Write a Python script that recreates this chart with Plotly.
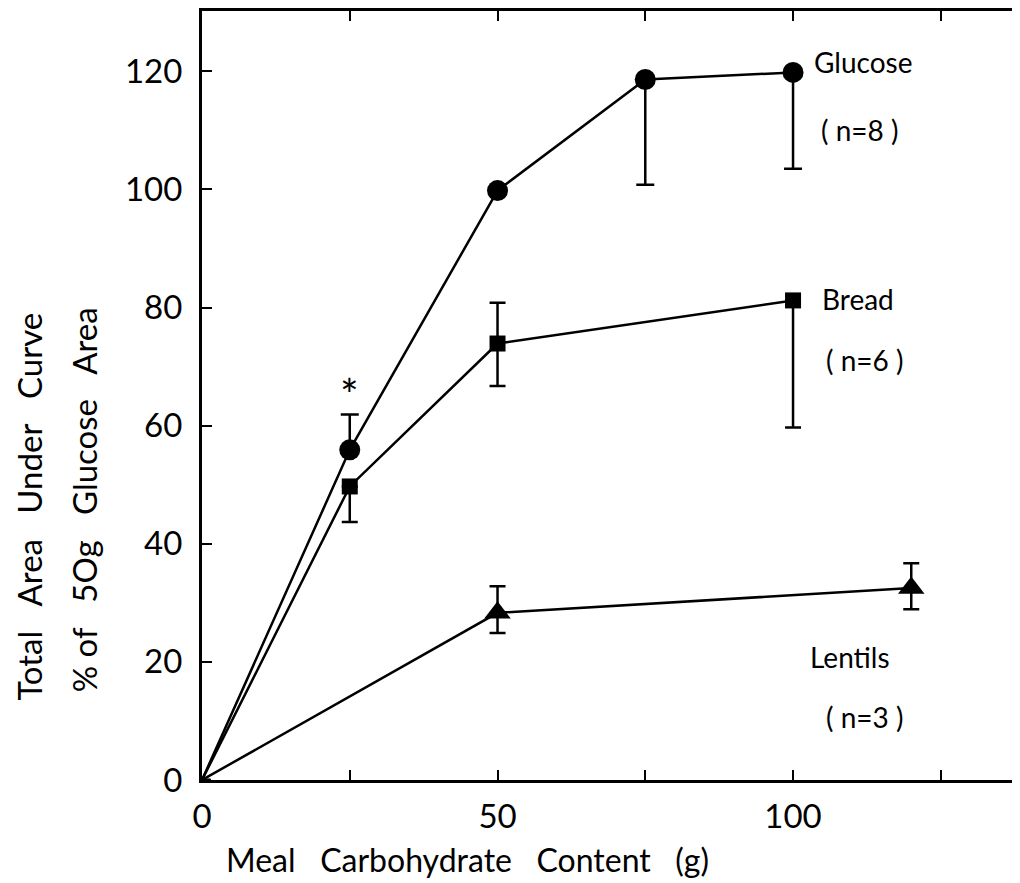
import plotly.graph_objects as go

# ---- data ----
glucose_x = [0, 25, 50, 75, 100]
glucose_y = [0, 55.9, 99.8, 118.6, 119.8]
glucose_err_plus = [None, 6.0, 0, 0, 0]
glucose_err_minus = [None, 0, 0, 17.8, 16.3]

bread_x = [0, 25, 50, 100]
bread_y = [0, 49.7, 73.9, 81.2]
bread_err_plus = [None, 0, 6.9, 0]
bread_err_minus = [None, 6.0, 7.2, 21.5]

lentils_x = [0, 50, 120]
lentils_y = [0, 28.3, 32.5]
lentils_err_plus = [None, 4.5, 4.2]
lentils_err_minus = [None, 3.4, 3.6]

x_tickvals = [0, 25, 50, 75, 100, 125]
x_ticktext = ["0", "", "50", "", "100", ""]
y_tickvals = [0, 20, 40, 60, 80, 100, 120]
y_ticktext = ["0", "20", "40", "60", "80", "100", "120"]

FONT = "Lato"
BLACK = "#000000"
NB = "\u00a0"


def sizes(xs, s):
    return [0 if x == 0 else s for x in xs]


fig = go.Figure()

fig.add_trace(go.Scatter(
    x=glucose_x, y=glucose_y, mode="lines+markers",
    line=dict(color=BLACK, width=2.5),
    marker=dict(symbol="circle", size=sizes(glucose_x, 21), color=BLACK,
                opacity=1, line=dict(width=0)),
    error_y=dict(type="data", symmetric=False, array=glucose_err_plus,
                 arrayminus=glucose_err_minus, color=BLACK, thickness=2.5, width=9),
    showlegend=False,
))
fig.add_trace(go.Scatter(
    x=bread_x, y=bread_y, mode="lines+markers",
    line=dict(color=BLACK, width=2.5),
    marker=dict(symbol="square", size=sizes(bread_x, 16), color=BLACK,
                opacity=1, line=dict(width=0)),
    error_y=dict(type="data", symmetric=False, array=bread_err_plus,
                 arrayminus=bread_err_minus, color=BLACK, thickness=2.5, width=8),
    showlegend=False,
))
fig.add_trace(go.Scatter(
    x=lentils_x, y=lentils_y, mode="lines+markers",
    line=dict(color=BLACK, width=2.5),
    marker=dict(symbol="triangle-up", size=sizes(lentils_x, 23), color=BLACK,
                opacity=1, line=dict(width=0)),
    error_y=dict(type="data", symmetric=False, array=lentils_err_plus,
                 arrayminus=lentils_err_minus, color=BLACK, thickness=2.5, width=8),
    showlegend=False,
))

# dummy trace for right-hand ticks
fig.add_trace(go.Scatter(x=[0], y=[0], yaxis="y2", mode="markers",
                         marker=dict(size=0, opacity=0), showlegend=False,
                         hoverinfo="skip"))

gap3 = NB * 3
annotations = [
    dict(x=25, y=65.3, text="*", font=dict(size=44)),
    dict(x=103.2, y=121.5, text="Glucose", xanchor="left", font=dict(size=28)),
    dict(x=104.4, y=110.0, text="( n=8 )", xanchor="left", font=dict(size=28)),
    dict(x=104.6, y=81.4, text="Bread", xanchor="left", font=dict(size=28)),
    dict(x=105.2, y=71.1, text="( n=6 )", xanchor="left", font=dict(size=28)),
    dict(x=102.5, y=20.8, text="Lentils", xanchor="left", font=dict(size=28)),
    dict(x=105.2, y=10.7, text="( n=3 )", xanchor="left", font=dict(size=28)),
    dict(x=-0.212, y=0.355, xref="paper", yref="paper",
         text=gap3.join(["Total", "Area", "Under", "Curve"]),
         textangle=-90, font=dict(size=33)),
    dict(x=-0.144, y=0.364, xref="paper", yref="paper",
         text=gap3.join(["%" + NB + "of", "5Og", "Glucose", "Area"]),
         textangle=-90, font=dict(size=33)),
    dict(x=0.324, y=-0.104, xref="paper", yref="paper",
         text=gap3.join(["Meal", "Carbohydrate", "Content", "(g)"]),
         font=dict(size=32)),
]
for a in annotations:
    a.setdefault("xref", "x")
    a.setdefault("yref", "y")
    a.setdefault("xanchor", "center")
    a["yanchor"] = "middle"
    a["showarrow"] = False
    a["font"]["family"] = FONT
    a["font"]["color"] = BLACK

fig.update_layout(
    width=1012, height=875,
    margin=dict(l=194, r=0, t=3, b=103),
    paper_bgcolor="white", plot_bgcolor="white",
    font=dict(family=FONT, color=BLACK),
    annotations=annotations,
    xaxis=dict(
        range=[0, 138.4], tickvals=x_tickvals, ticktext=x_ticktext,
        ticks="inside", ticklen=10, tickwidth=2, tickcolor=BLACK,
        showline=True, linecolor=BLACK, linewidth=3, mirror="ticks",
        showgrid=False, zeroline=False,
        tickfont=dict(size=33, family=FONT, color=BLACK), ticklabelstandoff=5,
    ),
    yaxis=dict(
        range=[0, 130.2], tickvals=y_tickvals, ticktext=y_ticktext,
        ticks="inside", ticklen=10, tickwidth=2, tickcolor=BLACK,
        showline=True, linecolor=BLACK, linewidth=3,
        showgrid=False, zeroline=False,
        tickfont=dict(size=33, family=FONT, color=BLACK), ticklabelstandoff=10,
    ),
    yaxis2=dict(
        overlaying="y", side="right", range=[0, 130.2], tickvals=y_tickvals,
        ticks="inside", ticklen=7, tickwidth=2.5, tickcolor=BLACK,
        showticklabels=False, showline=False, showgrid=False, zeroline=False,
    ),
)

fig.write_html("out.html")
